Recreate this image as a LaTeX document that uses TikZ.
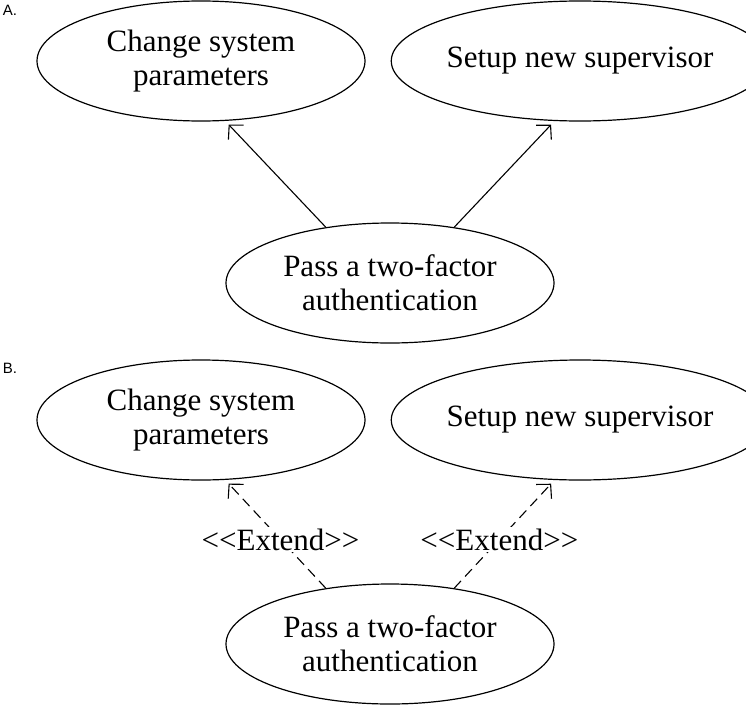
\documentclass[tikz,border=0pt]{standalone}
\usepackage{fontspec}
\setmainfont{Liberation Serif}
\newfontfamily\partfont{Liberation Sans}
\usetikzlibrary{shapes.geometric,arrows.meta}

\begin{document}
\begin{tikzpicture}[x=1pt,y=-1pt]
\tikzstyle{every node}+=[inner sep=0pt]
\tikzstyle{usecase}=[draw=black, line width=1.2pt, ellipse, minimum width=328pt, minimum height=120pt, align=center, font=\fontsize{31}{34}\selectfont]
\tikzstyle{assoc}=[black, line width=1.1pt, -{Straight Barb[length=10pt,width=21pt,line width=1.1pt]}, shorten >=5pt]
\tikzstyle{extend}=[assoc, dash pattern=on 10pt off 6pt]
\tikzstyle{stereo}=[pos=0.45, fill=white, inner sep=2pt, font=\fontsize{31}{34}\selectfont]
\tikzstyle{part}=[font=\partfont\fontsize{15}{17}\selectfont]
\useasboundingbox (0,0) rectangle (746,704);
\node [part] (labA) at (10,10) {A.};
\node [usecase] (cspA) at (201,61) {Change system\\parameters};
\node [usecase] (snsA) at (580,61) {Setup new supervisor};
\node [usecase] (tfaA) at (390,283) {Pass a two-factor\\authentication};
\draw [assoc] (tfaA.139) -- (cspA.-68);
\draw [assoc] (tfaA.41) -- (snsA.-113);
\node [part] (labB) at (10,368) {B.};
\node [usecase] (cspB) at (201,420) {Change system\\parameters};
\node [usecase] (snsB) at (580,420) {Setup new supervisor};
\node [usecase] (tfaB) at (390,644) {Pass a two-factor\\authentication};
\draw [extend] (tfaB.139) -- node [stereo] {<{}<Extend>{}>} (cspB.-68);
\draw [extend] (tfaB.41) -- node [stereo] {<{}<Extend>{}>} (snsB.-113);
\end{tikzpicture}
\end{document}
